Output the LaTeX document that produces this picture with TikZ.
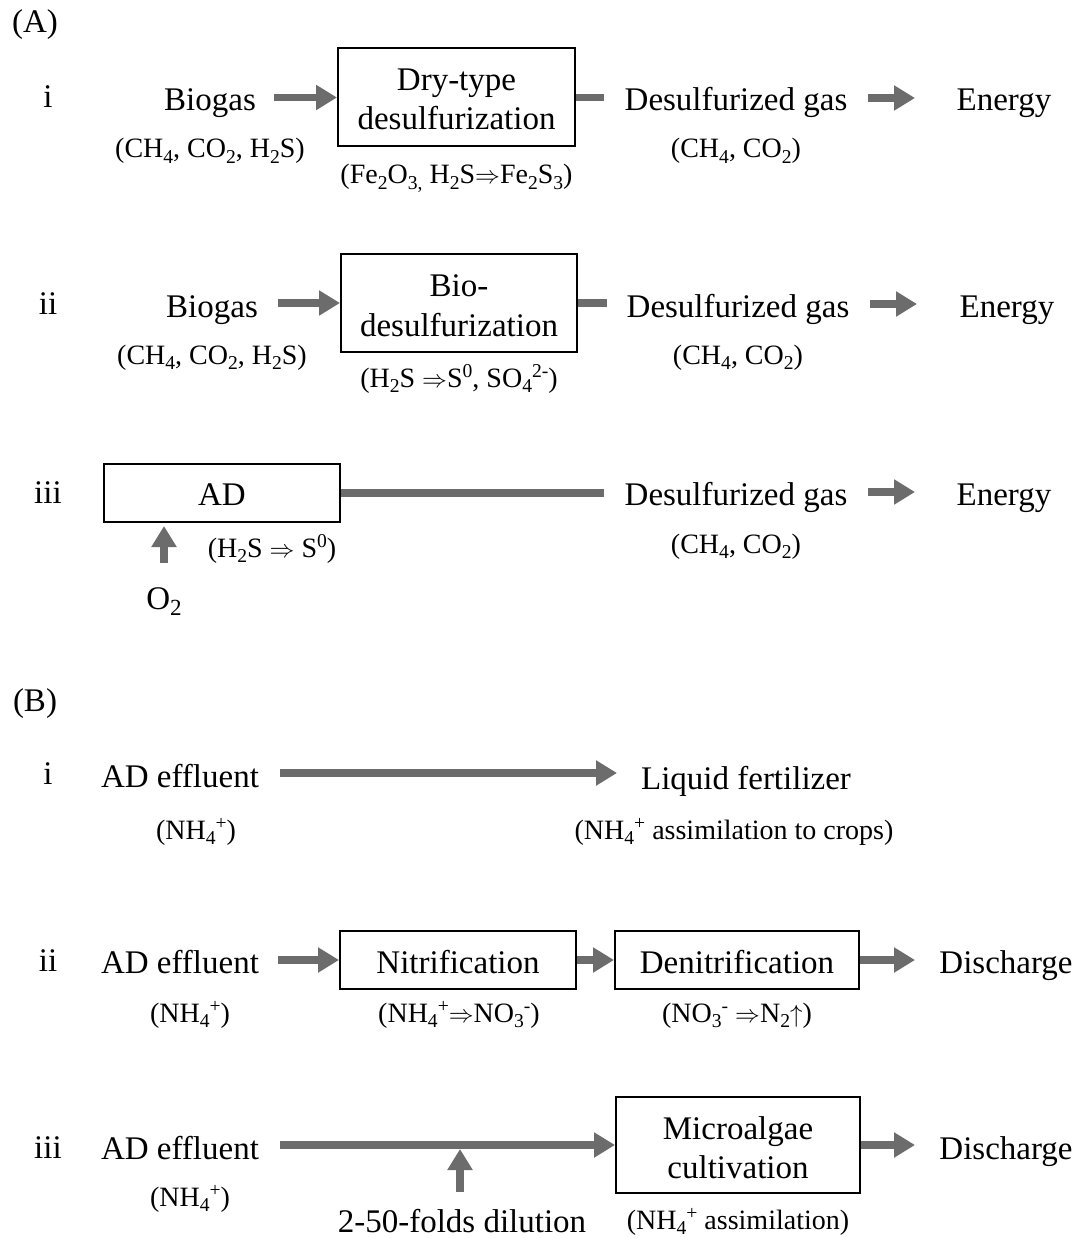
\documentclass[tikz,border=0pt]{standalone}
\usepackage{fontspec}
\setmainfont{Liberation Serif}
\usetikzlibrary{arrows.meta}
\definecolor{arrgray}{RGB}{108,108,108}
\newcommand{\rarr}{$\Rightarrow$}
\newcommand{\uarr}{$\uparrow$}
\makeatletter
\newcommand{\lo}[1]{{\edef\tmpsz{\strip@pt\dimexpr\f@size pt*70/100\relax}\raisebox{-0.2em}{\fontsize{\tmpsz}{\tmpsz}\selectfont #1}}}
\newcommand{\hi}[1]{{\edef\tmpsz{\strip@pt\dimexpr\f@size pt*70/100\relax}\raisebox{0.33em}{\fontsize{\tmpsz}{\tmpsz}\selectfont #1}}}
\makeatother
\begin{document}
\begin{tikzpicture}[x=1pt,y=-1pt,
  mt/.style={font=\fontsize{33}{39}\selectfont, inner sep=0pt, anchor=base},
  st/.style={font=\fontsize{28}{33}\selectfont, inner sep=0pt, anchor=base},
  box/.style={draw, line width=2pt, inner sep=0pt},
  arr/.style={draw=arrgray, line width=7.5pt, -{Triangle[length=21pt,width=24pt]}},
  plainline/.style={draw=arrgray, line width=7.5pt}]
\useasboundingbox[fill=white] (0,0) rectangle (1081,1238);

% ---------------- (A) ----------------
\node[mt] (lA) at (35,33) {(A)};

% A-i
\node[mt] (ri1) at (48,108) {i};
\node[mt] (bg1) at (210,111) {Biogas};
\node[st] (bg1s) at (210,158) {(CH\lo{4}, CO\lo{2}, H\lo{2}S)};
\node[box, minimum width=237pt, minimum height=98pt] (b1) at (456.5,97.5) {};
\node[mt] (b1a) at (456.5,91) {Dry-type};
\node[mt] (b1b) at (456.5,130) {desulfurization};
\node[st] (b1s) at (456.5,184) {(Fe\lo{2}O\lo{3,} H\lo{2}S\rarr Fe\lo{2}S\lo{3})};
\node[mt] (dg1) at (736,111) {Desulfurized gas};
\node[st] (dg1s) at (736,158) {(CH\lo{4}, CO\lo{2})};
\node[mt] (en1) at (1004,111) {Energy};
\coordinate (a1s) at (274,97.5);
\coordinate (l1e) at (604,97.5);
\coordinate (e1s) at (868,98);
\coordinate (e1e) at (915,98);
\draw[arr] (a1s) -- (b1.west);
\draw[plainline] (b1.east) -- (l1e);
\draw[arr] (e1s) -- (e1e);

% A-ii
\node[mt] (ri2) at (48,314) {ii};
\node[mt] (bg2) at (212,317) {Biogas};
\node[st] (bg2s) at (212,364) {(CH\lo{4}, CO\lo{2}, H\lo{2}S)};
\node[box, minimum width=236pt, minimum height=98pt] (b2) at (459,303) {};
\node[mt] (b2a) at (459,297) {Bio-};
\node[mt] (b2b) at (459,336) {desulfurization};
\node[st] (b2s) at (459,387) {(H\lo{2}S \rarr S\hi{0}, SO\lo{4}\hi{2-})};
\node[mt] (dg2) at (738,317) {Desulfurized gas};
\node[st] (dg2s) at (738,364) {(CH\lo{4}, CO\lo{2})};
\node[mt] (en2) at (1007,317) {Energy};
\coordinate (a2s) at (278,303);
\coordinate (l2e) at (607,303);
\coordinate (e2s) at (870,304);
\coordinate (e2e) at (917,304);
\draw[arr] (a2s) -- (b2.west);
\draw[plainline] (b2.east) -- (l2e);
\draw[arr] (e2s) -- (e2e);

% A-iii
\node[mt] (ri3) at (48,503) {iii};
\node[box, minimum width=236pt, minimum height=58pt] (b3) at (222,493) {};
\node[mt] (b3t) at (222,505) {AD};
\node[st] (b3s) at (272,557) {(H\lo{2}S \rarr{} S\hi{0})};
\node[mt] (o2) at (164,609) {O\lo{2}};
\coordinate (o2s) at (164,563);
\draw[arr] (o2s) -- ([yshift=-3pt]o2s |- b3.south);
\node[mt] (dg3) at (736,505) {Desulfurized gas};
\node[st] (dg3s) at (736,553) {(CH\lo{4}, CO\lo{2})};
\node[mt] (en3) at (1004,505) {Energy};
\coordinate (l3e) at (604,493);
\coordinate (e3s) at (868,492);
\coordinate (e3e) at (915,492);
\draw[plainline] (b3.east) -- (l3e);
\draw[arr] (e3s) -- (e3e);

% ---------------- (B) ----------------
\node[mt] (lB) at (35,711) {(B)};

% B-i
\node[mt] (rb1) at (48,784) {i};
\node[mt] (ef1) at (180,787) {AD effluent};
\node[st] (ef1s) at (196,839) {(NH\lo{4}\hi{+})};
\node[mt] (lf) at (746,789) {Liquid fertilizer};
\node[st] (lfs) at (734,839) {(NH\lo{4}\hi{+} assimilation to crops)};
\coordinate (f1s) at (280,773);
\coordinate (f1e) at (617,773);
\draw[arr] (f1s) -- (f1e);

% B-ii
\node[mt] (rb2) at (48,971) {ii};
\node[mt] (ef2) at (180,973) {AD effluent};
\node[st] (ef2s) at (190,1022) {(NH\lo{4}\hi{+})};
\node[box, minimum width=236pt, minimum height=58pt] (n1) at (458,960) {};
\node[mt] (n1t) at (458,973) {Nitrification};
\node[st] (n1s) at (459,1022) {(NH\lo{4}\hi{+}\rarr NO\lo{3}\hi{-})};
\node[box, minimum width=244pt, minimum height=58pt] (n2) at (737,960) {};
\node[mt] (n2t) at (737,973) {Denitrification};
\node[st] (n2s) at (737,1022) {(NO\lo{3}\hi{-} \rarr N\lo{2}\uarr)};
\node[mt] (dc1) at (1006,973) {Discharge};
\coordinate (g1s) at (278,960);
\coordinate (g1e) at (915,960);
\draw[arr] (g1s) -- (n1.west);
\draw[arr] (n1.east) -- (n2.west);
\draw[arr] (n2.east) -- (g1e);

% B-iii
\node[mt] (rb3) at (48,1158) {iii};
\node[mt] (ef3) at (180,1159) {AD effluent};
\node[st] (ef3s) at (190,1206) {(NH\lo{4}\hi{+})};
\node[box, minimum width=244pt, minimum height=96pt] (m1) at (738,1145) {};
\node[mt] (m1a) at (738,1139) {Microalgae};
\node[mt] (m1b) at (738,1178) {cultivation};
\node[st] (m1s) at (738,1229) {(NH\lo{4}\hi{+} assimilation)};
\node[mt] (dc2) at (1006,1159) {Discharge};
\node[mt] (dil) at (462,1232) {2-50-folds dilution};
\coordinate (h1s) at (280,1145);
\coordinate (h1e) at (915,1145);
\coordinate (d1s) at (460,1192);
\coordinate (d1e) at (460,1149);
\draw[arr] (h1s) -- (m1.west);
\draw[arr] (m1.east) -- (h1e);
\draw[arr] (d1s) -- (d1e);
\end{tikzpicture}
\end{document}
